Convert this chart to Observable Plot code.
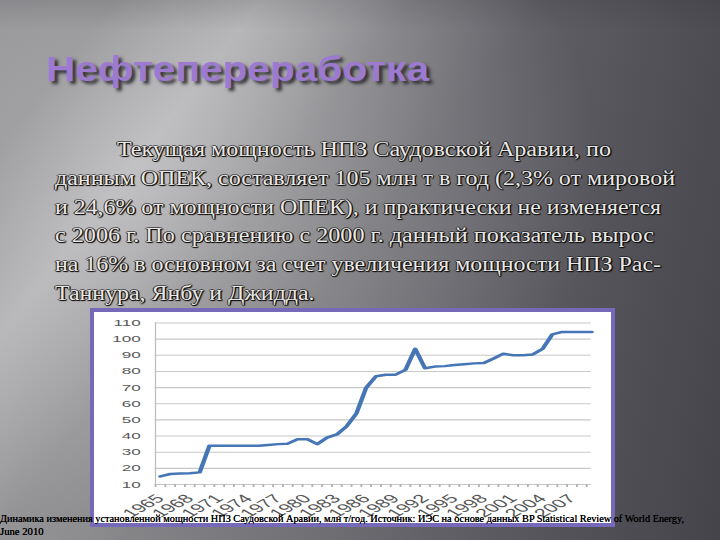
<!DOCTYPE html>
<html>
<head>
<meta charset="utf-8">
<script src="https://cdn.jsdelivr.net/npm/d3@7"></script>
<script src="https://cdn.jsdelivr.net/npm/@observablehq/plot@0.6"></script>
<style>
  html, body { margin: 0; padding: 0; }
  body {
    width: 720px; height: 540px; overflow: hidden; position: relative;
    background:
      linear-gradient(180deg, rgba(25,25,30,0.12) 0px, rgba(25,25,30,0) 30px),
      linear-gradient(128deg, rgba(255,255,255,0) 10%, rgba(232,232,234,0.40) 23%, rgba(255,255,255,0.08) 36%, rgba(255,255,255,0) 48%),
      radial-gradient(ellipse 450px 360px at 150px 170px, rgba(210,210,212,0.42), rgba(210,210,212,0) 100%),
      linear-gradient(100deg, #8d8d90 0%, #8a8a8d 22%, #757579 45%, #606066 65%, #4f4f55 85%, #44444a 100%);
  }
  .t { position: absolute; white-space: nowrap; line-height: 1; transform-origin: 0 0; }
  #title {
    font-family: "Liberation Sans", Arial, sans-serif; font-weight: bold; font-size: 35px;
    color: #9c7ad0; text-shadow: 3px 3px 3px rgba(35,35,40,0.85);
  }
  .body {
    font-family: "Liberation Serif", "DejaVu Serif", "Times New Roman", serif; font-size: 20px;
    color: #e8e8e8;
    text-shadow: 1px 0 0 rgba(20,20,20,0.85), -1px 0 0 rgba(20,20,20,0.85), 0 1px 0 rgba(20,20,20,0.85), 0 -1px 0 rgba(20,20,20,0.6), 1px 1px 1px #000;
  }
  #frame {
    position: absolute; left: 90px; top: 308px; width: 517px; height: 211px;
    border: 4px solid #7669ba; background: #ffffff;
  }
  #frame svg { position: absolute; left: 0; top: 0; transform-origin: 0 0; overflow: visible; max-width: none !important; }
  .cap {
    font-family: "Liberation Serif", "DejaVu Serif", "Times New Roman", serif; font-size: 10.5px; color: #000; z-index: 5;
    text-shadow: 0 0 0.6px #000;
  }
</style>
</head>
<body>
<div id="title" class="t"></div>
<div id="frame"></div>
<script>
// ---- data ----
const years = [1965,1966,1967,1968,1969,1970,1971,1972,1973,1974,1975,1976,1977,1978,1979,1980,
  1981,1982,1983,1984,1985,1986,1987,1988,1989,1990,1991,1992,1993,1994,1995,1996,1997,1998,1999,
  2000,2001,2002,2003,2004,2005,2006,2007,2008,2009];
const capacity = [15,16.5,16.8,17,17.5,34,34,34,34,34,34,34.5,35,35.3,38,38,
  35,39,41,46,54,70,77,78,78,81,94,82,83,83.3,84,84.5,85,85.2,88,
  91,90,90,90.5,94,103,104.5,104.5,104.5,104.5];
const yTicks = [10,20,30,40,50,60,70,80,90,100,110];
const xLabelYears = [1965,1968,1971,1974,1977,1980,1983,1986,1989,1992,1995,1998,2001,2004,2007];

const titleText = "Нефтепереработка";
const bodyLines = [
  "Текущая мощность НПЗ Саудовской Аравии, по",
  "данным ОПЕК, составляет 105 млн т в год (2,3% от мировой",
  "и 24,6% от мощности ОПЕК), и практически не изменяется",
  "с 2006 г. По сравнению с 2000 г. данный показатель вырос",
  "на 16% в основном за счет увеличения мощности НПЗ Рас-",
  "Таннура, Янбу и Джидда."
];
const captionLines = [
  "Динамика изменения установленной мощности НПЗ Саудовской Аравии, млн т/год. Источник: ИЭС на основе данных  BP Statistical Review of World Energy,",
  "June 2010"
];

// ---- layout helpers ----
function fitWidth(el, target) {
  const w = el.getBoundingClientRect().width;
  if (w > 0) el.style.transform = `scaleX(${target / w})`;
}

const title = document.getElementById("title");
title.textContent = titleText;
title.style.left = "46px";
title.style.top = (80.5 - 0.8465 * 35) + "px";
fitWidth(title, 383);

const bodyLeft = [117, 55, 55, 55, 55, 55];
const bodyRight = [611, 675, 661, 654, 661, 314.5];
bodyLines.forEach((txt, i) => {
  const d = document.createElement("div");
  d.className = "t body";
  d.textContent = txt;
  d.style.left = bodyLeft[i] + "px";
  d.style.top = (156 + i * 28.7 - 0.8375 * 20) + "px";
  document.body.appendChild(d);
  fitWidth(d, bodyRight[i] - bodyLeft[i]);
});

// ---- chart ----
const data = years.map((year, i) => ({year, value: capacity[i]}));
const boundaries = years.map(y => y - 0.5);
const W = 288, H = 211, innerW = 517;

const chart = Plot.plot({
  width: W, height: H,
  marginLeft: 36.5, marginRight: 11.3, marginTop: 10.5, marginBottom: 39,
  x: {domain: [1965, 2009], axis: null, label: null},
  y: {domain: [10, 110], axis: null, label: null},
  style: {fontFamily: "'Liberation Sans', Arial, sans-serif", fontSize: "9.5px", color: "#595959", background: "transparent"},
  marks: [
    Plot.ruleY(yTicks, {x1: 1964.5, x2: 2009, stroke: "#c8c8c8", strokeWidth: 1.1}),
    Plot.ruleX([1964.5], {y1: 10, y2: 110, stroke: "#bdbdbd", strokeWidth: 0.7}),
    Plot.axisX({ticks: boundaries, tickFormat: () => "", tickSize: 3, stroke: "#b0b0b0", label: null}),
    Plot.axisX({ticks: xLabelYears, tickFormat: d => String(d), tickSize: 0, tickPadding: 12, tickRotate: -45, fill: "#555555", label: null}),
    Plot.axisY({ticks: yTicks, tickFormat: d => String(d), tickSize: 0, tickPadding: 11, fill: "#595959", label: null}),
    Plot.line(data, {x: "year", y: "value", stroke: "#4676b6", strokeWidth: 2.5})
  ]
});
// enlarge the rotated year labels
d3.select(chart).selectAll("text")
  .filter(function() { return xLabelYears.includes(+this.textContent); })
  .style("font-size", "12px");
chart.style.transform = `scaleX(${innerW / W})`;
document.getElementById("frame").appendChild(chart);

// ---- caption ----
const capTops = [523, 535.5];
const capWidths = [684, 43.6];
captionLines.forEach((txt, i) => {
  const d = document.createElement("div");
  d.className = "t cap";
  d.textContent = txt;
  d.style.left = "0px";
  d.style.top = (capTops[i] - 0.8375 * 10.5) + "px";
  document.body.appendChild(d);
  fitWidth(d, capWidths[i]);
});
</script>
</body>
</html>
